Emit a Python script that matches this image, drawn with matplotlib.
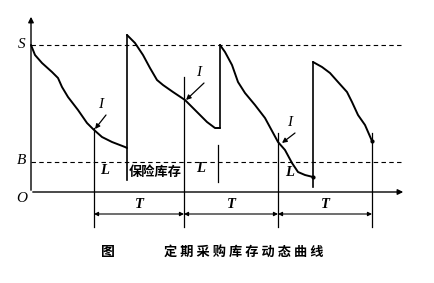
import matplotlib.pyplot as plt

plt.rcParams['font.family'] = ['Noto Sans CJK SC', 'DejaVu Sans']

# inventory curves for each cycle (time, stock level)
t1 = [0, 4, 11, 21, 27, 31, 37, 47, 56, 62, 71, 81, 94, 96]
q1 = [147, 137, 129, 120, 114, 105, 95, 82, 69, 63, 55, 50, 45, 44]
t2 = [96, 104, 112, 119, 126, 132, 142, 154, 166, 176, 184, 189]
q2 = [157, 149, 137, 124, 112, 107, 100, 92, 80, 70, 64, 64]
t3 = [189, 194, 201, 207, 214, 224, 234, 247, 254, 261, 267, 274, 282]
q3 = [147, 140, 127, 110, 99, 87, 74, 50, 42, 29, 20, 17, 15]
t4 = [282, 291, 299, 307, 316, 321, 327, 334, 341]
q4 = [130, 125, 119, 110, 100, 90, 77, 67, 51]

S_level = 147
B_level = 30
review_t = [63, 153, 247, 341]     # order moments, period T
arrive_t = [96, 189, 282]          # deliveries after lead time L
I_points = [(64, 63), (155, 92), (251, 49)]
I_labels = [(70, 87), (168, 119), (259, 69)]

fig = plt.figure(figsize=(4.34, 2.83), dpi=100)
ax = fig.add_axes([0, 0, 1, 1])
ax.set_xlim(-31, 403)
ax.set_ylim(-91, 192)
ax.axis('off')

serif = dict(family='Liberation Serif', style='italic', fontsize=11)
serif_b = dict(serif, fontweight='bold', fontsize=10.5)

# axes with arrows
ax.annotate('', xy=(0, 178), xytext=(0, -1),
            arrowprops=dict(arrowstyle='-|>', color='black', lw=1.0, mutation_scale=8))
ax.annotate('', xy=(375, 0), xytext=(-1, 0),
            arrowprops=dict(arrowstyle='-|>', color='black', lw=1.0, mutation_scale=8))

# S and B levels
ax.plot([0, 370], [S_level, S_level], color='black', lw=0.8, ls=(0, (4, 3)))
ax.plot([0, 370], [B_level, B_level], color='black', lw=0.8, ls=(0, (4, 3)))
ax.text(-9, S_level, 'S', ha='center', va='center', **serif)
ax.text(-9, B_level + 2, 'B', ha='center', va='center', **serif)
ax.text(-9, -7, 'O', ha='center', va='center', **serif)

# inventory curves
for t, q in [(t1, q1), (t2, q2), (t3, q3), (t4, q4)]:
    ax.plot(t, q, color='black', lw=1.4, solid_capstyle='round', solid_joinstyle='round')
ax.plot([t3[-1], t4[-1]], [q3[-1], q4[-1]], 'o', color='black', ms=2)

# jumps at delivery
ax.plot([96, 96], [12, 157], color='black', lw=1.2)
ax.plot([189, 189], [64, 147], color='black', lw=1.2)
ax.plot([282, 282], [5, 130], color='black', lw=1.2)
ax.plot([187, 187], [10, 47], color='black', lw=0.9)

# review lines
tops = [64, 115, 59, 59]
for t, top in zip(review_t, tops):
    ax.plot([t, t], [-35, top], color='black', lw=0.9)

# period dimension arrows
for a, b in zip(review_t[:-1], review_t[1:]):
    ax.annotate('', xy=(b, -22), xytext=(a, -22),
                arrowprops=dict(arrowstyle='<|-|>', color='black', lw=0.8,
                                mutation_scale=6, shrinkA=0, shrinkB=0))
    ax.text((a + b) / 2, -12, 'T', ha='center', va='center', **serif_b)

# I arrows
for (px, py), (lx, ly) in zip(I_points, I_labels):
    ax.text(lx, ly, 'I', ha='center', va='center', **serif)
    ax.annotate('', xy=(px, py), xytext=(lx + 5, ly - 10),
                arrowprops=dict(arrowstyle='-|>', color='black', lw=0.9,
                                mutation_scale=7, shrinkA=0, shrinkB=0))

# lead time labels
for x, y in [(74, 21), (170, 23), (259, 19)]:
    ax.text(x, y, 'L', ha='center', va='center', **serif_b)
ax.text(98, 20, '保险库存', ha='left', va='center', fontsize=9.5, fontweight='bold')

# caption
ax.text(77, -60, '图', ha='center', va='center', fontsize=10, fontweight='bold')
ax.text(213, -60, ' '.join('定期采购库存动态曲线'), ha='center', va='center',
        fontsize=9.5, fontweight='bold')

fig.savefig('out.png', dpi=100)
